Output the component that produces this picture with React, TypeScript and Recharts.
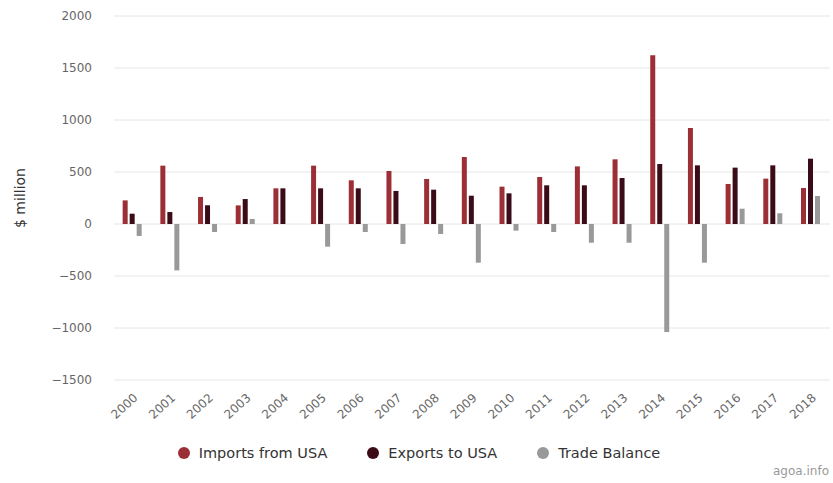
import React from "react";
import { BarChart, Bar, XAxis, YAxis, CartesianGrid, Legend } from "recharts";

const years = ["2000","2001","2002","2003","2004","2005","2006","2007","2008","2009","2010","2011","2012","2013","2014","2015","2016","2017","2018"];
const importsFromUSA = [227, 561, 260, 179, 343, 561, 420, 510, 433, 644, 359, 452, 554, 622, 1622, 923, 385, 436, 346];
const exportsToUSA = [99, 115, 180, 240, 343, 343, 343, 318, 330, 272, 295, 372, 372, 442, 577, 564, 542, 564, 628];
const tradeBalance = [-115, -446, -77, 48, 0, -218, -77, -192, -96, -372, -64, -77, -180, -180, -1039, -372, 147, 103, 269];
const yTicks = [-1500, -1000, -500, 0, 500, 1000, 1500, 2000];

const data = years.map((y, i) => ({
  year: y,
  imports: importsFromUSA[i],
  exports: exportsToUSA[i],
  balance: tradeBalance[i],
}));

const FONT = "'DejaVu Sans', sans-serif";

const series = [
  { key: "imports", name: "Imports from USA", color: "#9c2f35" },
  { key: "exports", name: "Exports to USA", color: "#3b0c17" },
  { key: "balance", name: "Trade Balance", color: "#999999" },
];

const LegendContent = () => (
  <div style={{ height: 24, display: "flex", justifyContent: "center", alignItems: "center", fontFamily: FONT, fontSize: 14.5, color: "#333", marginLeft: 8 }}>
    {series.map((s) => (
      <div key={s.key} style={{ display: "flex", alignItems: "center", margin: "0 20px" }}>
        <span style={{ width: 12, height: 12, borderRadius: 6, background: s.color, display: "inline-block", marginRight: 9 }} />
        <span>{s.name}</span>
      </div>
    ))}
  </div>
);

const XTick = (props: any) => {
  const { x, y, payload } = props;
  return (
    <g transform={`translate(${x + 3},${y + 8})`}>
      <text x={0} y={0} dy={4} textAnchor="end" transform="rotate(-42)" fill="#666" fontSize={12} fontFamily={FONT}>
        {payload.value}
      </text>
    </g>
  );
};

const fmtY = (v: number) => (v < 0 ? "\u2212" + Math.abs(v) : String(v));

export default function App() {
  return (
    <div style={{ position: "absolute", left: 0, top: 0, width: 833, height: 483, background: "#fff" }}>
      <BarChart
        width={833}
        height={483}
        data={data}
        margin={{ top: 16, right: 3, bottom: 18, left: 0 }}
        barCategoryGap="23%"
        barGap={2}
      >
        <CartesianGrid vertical={false} stroke="#e6e6e6" />
        <XAxis dataKey="year" axisLine={false} tickLine={false} height={61} tick={<XTick />} interval={0} />
        <YAxis
          width={114}
          domain={[-1500, 2000]}
          ticks={yTicks}
          tickFormatter={fmtY}
          axisLine={false}
          tickLine={false}
          tickSize={10}
          tickMargin={12}
          tick={{ fill: "#666", fontSize: 12, fontFamily: FONT }}
          label={{ value: "$ million", angle: -90, position: "insideLeft", offset: 20, style: { fill: "#333", fontSize: 14, fontFamily: FONT, textAnchor: "middle" } }}
        />
        <Legend verticalAlign="bottom" align="center" content={<LegendContent />} />
        {series.map((s) => (
          <Bar key={s.key} dataKey={s.key} name={s.name} fill={s.color} isAnimationActive={false} />
        ))}
      </BarChart>
      <div style={{ position: "absolute", right: 4, top: 464, fontFamily: FONT, fontSize: 12, color: "#999" }}>agoa.info</div>
    </div>
  );
}
